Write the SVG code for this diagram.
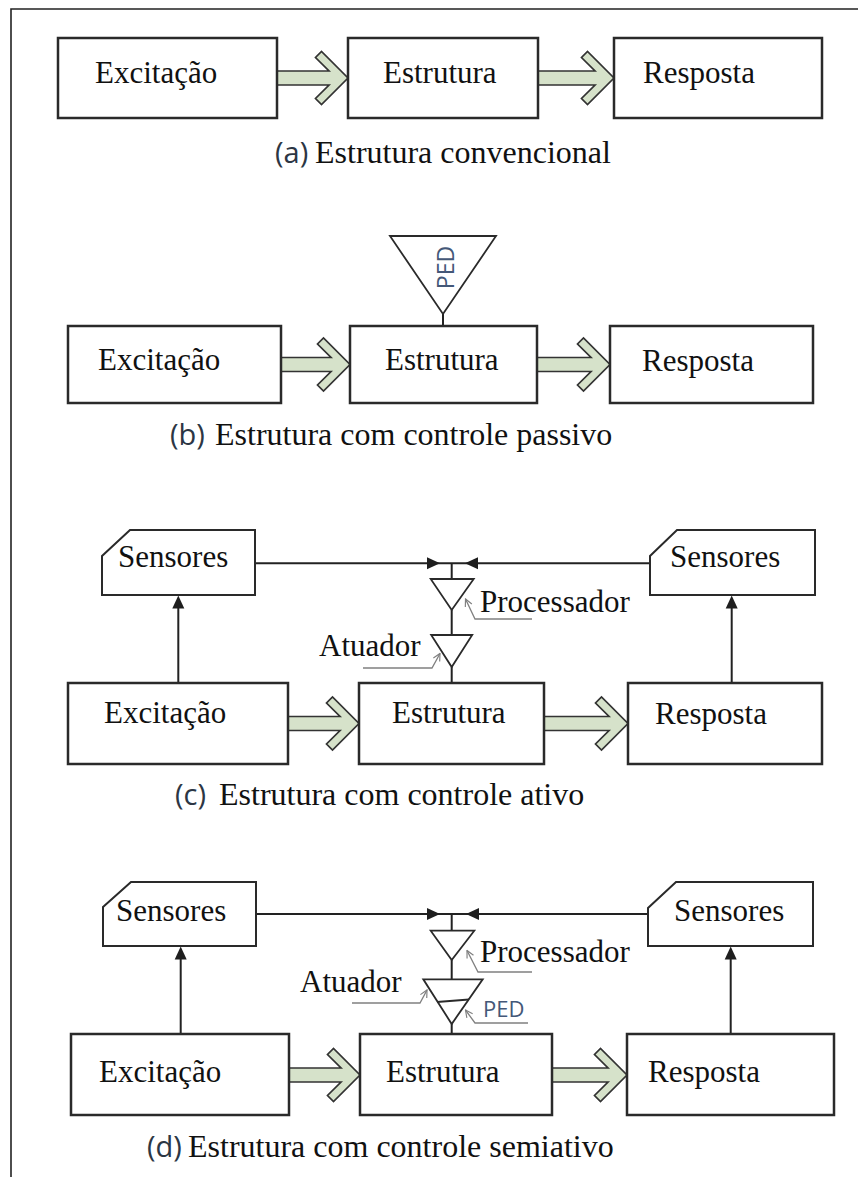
<svg xmlns="http://www.w3.org/2000/svg" width="858" height="1177" viewBox="0 0 858 1177">
  <style>
    .box { fill: #ffffff; stroke: #2a2a2a; stroke-width: 2.5; }
    .sensor { fill: #ffffff; stroke: #2a2a2a; stroke-width: 2; }
    .flow { fill: #d6e2ca; stroke: #333333; stroke-width: 1.7; stroke-linejoin: miter; }
    .wire { fill: none; stroke: #222222; stroke-width: 2; }
    .tri { fill: #ffffff; stroke: #2a2a2a; stroke-width: 1.8; stroke-linejoin: miter; }
    .head { fill: #1e1e1e; stroke: none; }
    .leader { fill: none; stroke: #808080; stroke-width: 1.3; }
    .lbl { font-family: "Liberation Serif", "Times New Roman", serif; font-size: 31px; fill: #111111; }
    .cap { font-family: "Liberation Serif", "Times New Roman", serif; font-size: 32px; fill: #111111; }
    .tag { font-family: "Open Sans", "Noto Sans", sans-serif; font-size: 29px; fill: #2c3644; }
    .ped { font-family: "Open Sans", "Noto Sans", sans-serif; fill: #445878; }
  </style>
  <defs>
    <marker id="openTip" viewBox="0 0 10 10" refX="9" refY="5" markerWidth="9" markerHeight="9" markerUnits="userSpaceOnUse" orient="auto">
      <path d="M1,1 L9,5 L1,9" fill="none" stroke="#808080" stroke-width="1.3"/>
    </marker>
  </defs>

  <!-- frame -->
  <path d="M11,1177 L11,9 L858,9" fill="none" stroke="#222222" stroke-width="1.6"/>

  <!-- connectors -->
  <g id="connectors">
    <!-- (a) -->
    <polygon class="flow" points="277,71 329,71 315.5,57.5 321.5,51.5 348,78 321.5,104.5 315.5,98.5 329,85 277,85"/>
    <polygon class="flow" points="538,71 595,71 581.5,57.5 587.5,51.5 614,78 587.5,104.5 581.5,98.5 595,85 538,85"/>
    <!-- (b) -->
    <polygon class="flow" points="281,357.5 331,357.5 317.5,344 323.5,338 350,364.5 323.5,391 317.5,385 331,371.5 281,371.5"/>
    <polygon class="flow" points="537,357.5 591,357.5 577.5,344 583.5,338 610,364.5 583.5,391 577.5,385 591,371.5 537,371.5"/>
    <line class="wire" x1="443" y1="314" x2="443" y2="326" stroke-width="1.8"/>
    <!-- (c) -->
    <polygon class="flow" points="288,716.5 340,716.5 326.5,703 332.5,697 359,723.5 332.5,750 326.5,744 340,730.5 288,730.5"/>
    <polygon class="flow" points="544,716.5 609,716.5 595.5,703 601.5,697 628,723.5 601.5,750 595.5,744 609,730.5 544,730.5"/>
    <line class="wire" x1="255" y1="563.3" x2="650" y2="563.3"/>
    <polygon class="head" points="440,563.3 427,557.3 427,569.3"/>
    <polygon class="head" points="465,563.3 478,557.3 478,569.3"/>
    <line class="wire" x1="451.7" y1="563.3" x2="451.7" y2="579"/>
    <line class="wire" x1="451.7" y1="610" x2="451.7" y2="635"/>
    <line class="wire" x1="451.7" y1="667" x2="451.7" y2="683"/>
    <line class="wire" x1="178.3" y1="683" x2="178.3" y2="606"/>
    <polygon class="head" points="178.3,595.5 172.3,608.5 184.3,608.5"/>
    <line class="wire" x1="731.7" y1="683" x2="731.7" y2="606"/>
    <polygon class="head" points="731.7,595.5 725.7,608.5 737.7,608.5"/>
    <path class="leader" d="M532,619 L475,619 L465.5,599" marker-end="url(#openTip)"/>
    <path class="leader" d="M363,668 L432,668 L440,653.5" marker-end="url(#openTip)"/>
    <!-- (d) -->
    <polygon class="flow" points="289,1068 341,1068 327.5,1054.5 333.5,1048.5 360,1075 333.5,1101.5 327.5,1095.5 341,1082 289,1082"/>
    <polygon class="flow" points="552,1068 608,1068 594.5,1054.5 600.5,1048.5 627,1075 600.5,1101.5 594.5,1095.5 608,1082 552,1082"/>
    <line class="wire" x1="256" y1="914" x2="648" y2="914"/>
    <polygon class="head" points="440,914 427,908 427,920"/>
    <polygon class="head" points="466,914 479,908 479,920"/>
    <line class="wire" x1="451.7" y1="914" x2="451.7" y2="930.7"/>
    <line class="wire" x1="451.7" y1="960" x2="451.7" y2="979.3"/>
    <line class="wire" x1="451.7" y1="1024" x2="451.7" y2="1034"/>
    <line class="wire" x1="180.7" y1="1034" x2="180.7" y2="957"/>
    <polygon class="head" points="180.7,946.5 174.7,959.5 186.7,959.5"/>
    <line class="wire" x1="730.7" y1="1034" x2="730.7" y2="957"/>
    <polygon class="head" points="730.7,946.5 724.7,959.5 736.7,959.5"/>
    <path class="leader" d="M532,972 L478,972 L467,950.5" marker-end="url(#openTip)"/>
    <path class="leader" d="M352,1003 L420,1003 L427,990" marker-end="url(#openTip)"/>
    <path class="leader" d="M528,1023 L475,1023 L465.5,1010" marker-end="url(#openTip)"/>
  </g>

  <!-- (a) conventional structure -->
  <g id="a-excitacao">
    <rect class="box" x="58" y="38" width="219" height="80"/>
    <text class="lbl" x="95" y="83">Excitação</text>
  </g>
  <g id="a-estrutura">
    <rect class="box" x="348" y="38" width="190" height="80"/>
    <text class="lbl" x="383" y="83">Estrutura</text>
  </g>
  <g id="a-resposta">
    <rect class="box" x="614" y="38" width="208" height="80"/>
    <text class="lbl" x="643" y="83">Resposta</text>
  </g>
  <g id="a-caption">
    <text x="275" y="163"><tspan class="tag">(a)</tspan><tspan class="cap" x="315">Estrutura convencional</tspan></text>
  </g>

  <!-- (b) passive control -->
  <g id="b-ped">
    <polygon class="tri" points="390,236 496,236 443,314" stroke-width="1.5"/>
    <text class="ped" font-size="23" text-anchor="middle" transform="translate(454,267.5) rotate(-90)">PED</text>
  </g>
  <g id="b-excitacao">
    <rect class="box" x="68" y="326" width="213" height="77"/>
    <text class="lbl" x="98" y="370">Excitação</text>
  </g>
  <g id="b-estrutura">
    <rect class="box" x="350" y="326" width="187" height="77"/>
    <text class="lbl" x="385" y="370">Estrutura</text>
  </g>
  <g id="b-resposta">
    <rect class="box" x="610" y="326" width="203" height="77"/>
    <text class="lbl" x="642" y="371">Resposta</text>
  </g>
  <g id="b-caption">
    <text x="170" y="445"><tspan class="tag">(b)</tspan><tspan class="cap" x="215">Estrutura com controle passivo</tspan></text>
  </g>

  <!-- (c) active control -->
  <g id="c-sensores-esq">
    <polygon class="sensor" points="102,556 130,530 255,530 255,595 102,595"/>
    <text class="lbl" x="118" y="567">Sensores</text>
  </g>
  <g id="c-sensores-dir">
    <polygon class="sensor" points="650,556 677,530 815,530 815,595 650,595"/>
    <text class="lbl" x="670" y="567">Sensores</text>
  </g>
  <g id="c-processador">
    <polygon class="tri" points="430.7,579 473.7,579 451.7,610"/>
    <text class="lbl" x="480" y="612">Processador</text>
  </g>
  <g id="c-atuador">
    <polygon class="tri" points="431.2,635 472.2,635 451.7,667"/>
    <text class="lbl" x="319" y="656">Atuador</text>
  </g>
  <g id="c-excitacao">
    <rect class="box" x="68" y="683" width="220" height="81"/>
    <text class="lbl" x="104" y="723">Excitação</text>
  </g>
  <g id="c-estrutura">
    <rect class="box" x="359" y="683" width="185" height="81"/>
    <text class="lbl" x="392" y="723">Estrutura</text>
  </g>
  <g id="c-resposta">
    <rect class="box" x="628" y="683" width="194" height="81"/>
    <text class="lbl" x="655" y="724">Resposta</text>
  </g>
  <g id="c-caption">
    <text x="175" y="805"><tspan class="tag">(c)</tspan><tspan class="cap" x="219">Estrutura com controle ativo</tspan></text>
  </g>

  <!-- (d) semi-active control -->
  <g id="d-sensores-esq">
    <polygon class="sensor" points="103,907 131,882 256,882 256,946 103,946"/>
    <text class="lbl" x="116" y="921">Sensores</text>
  </g>
  <g id="d-sensores-dir">
    <polygon class="sensor" points="648,908 676,882 813,882 813,946 648,946"/>
    <text class="lbl" x="674" y="921">Sensores</text>
  </g>
  <g id="d-processador">
    <polygon class="tri" points="430.7,930.7 474.3,930.7 451.7,960"/>
    <text class="lbl" x="480" y="962">Processador</text>
  </g>
  <g id="d-atuador-ped">
    <polygon class="tri" points="423.3,979.3 482.7,979.3 451.7,1024"/>
    <line x1="437" y1="1002" x2="469" y2="999.5" stroke="#2a2a2a" stroke-width="1.8"/>
    <text class="lbl" x="300" y="992">Atuador</text>
    <text class="ped" font-size="22" x="483" y="1017">PED</text>
  </g>
  <g id="d-excitacao">
    <rect class="box" x="71" y="1034" width="218" height="81"/>
    <text class="lbl" x="99" y="1082">Excitação</text>
  </g>
  <g id="d-estrutura">
    <rect class="box" x="360" y="1034" width="192" height="81"/>
    <text class="lbl" x="386" y="1082">Estrutura</text>
  </g>
  <g id="d-resposta">
    <rect class="box" x="627" y="1034" width="207" height="81"/>
    <text class="lbl" x="648" y="1082">Resposta</text>
  </g>
  <g id="d-caption">
    <text x="147" y="1157"><tspan class="tag">(d)</tspan><tspan class="cap" x="188">Estrutura com controle semiativo</tspan></text>
  </g>
</svg>
